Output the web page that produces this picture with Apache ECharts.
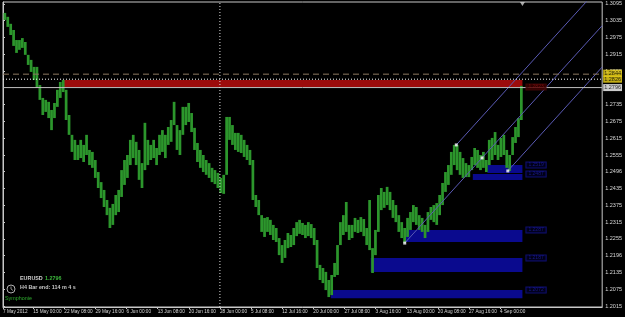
<!DOCTYPE html>
<html><head><meta charset="utf-8">
<script src="https://cdn.jsdelivr.net/npm/echarts@6/dist/echarts.min.js"></script>
<style>html,body{margin:0;padding:0;background:#000}#c{width:625px;height:317px}</style>
</head><body><div id="c"></div>
<script>
// EURUSD H4, aggregated in 3-bar (12h) bins: high / low of each bin
const binHighs = [1.3063,1.3049,1.3024,1.3002,1.2966,1.2966,1.2973,1.2959,1.2913,1.2895,
1.2870,1.2870,1.2805,1.2759,1.2752,1.2745,1.2716,1.2741,1.2788,1.2816,
1.2823,1.2788,1.2698,1.2627,1.2609,1.2591,1.2609,1.2591,1.2627,1.2573,
1.2566,1.2537,1.2494,1.2458,1.2430,1.2394,1.2366,1.2380,
1.2412,1.2430,1.2501,1.2537,1.2555,1.2609,1.2627,
1.2602,1.2573,1.2526,1.2670,1.2609,1.2591,1.2609,1.2580,1.2627,1.2644,
1.2627,1.2655,1.2680,1.2745,1.2662,1.2644,1.2727,1.2727,1.2741,1.2705,
1.2652,1.2598,1.2573,1.2555,1.2537,1.2526,1.2509,1.2501,1.2491,1.2473,
1.2484,1.2691,1.2691,1.2662,1.2634,1.2634,
1.2627,1.2609,1.2591,1.2573,1.2537,1.2412,1.2394,1.2340,
1.2330,1.2333,1.2323,1.2305,1.2294,1.2258,1.2233,1.2251,1.2276,1.2269,
1.2294,1.2315,1.2323,1.2312,1.2305,1.2315,1.2308,1.2294,1.2251,1.2162,
1.2151,1.2137,1.2108,1.2126,1.2169,1.2233,1.2315,1.2340,1.2387,1.2305,
1.2305,1.2330,1.2323,1.2333,1.2326,
1.2294,1.2394,1.2222,1.2287,1.2412,1.2437,1.2423,1.2441,
1.2423,1.2394,1.2376,1.2340,1.2315,1.2294,1.2330,1.2351,1.2376,1.2369,
1.2340,1.2330,1.2305,1.2351,1.2369,1.2376,1.2383,1.2412,1.2455,1.2494,
1.2519,1.2566,1.2591,1.2591,1.2566,1.2544,1.2526,1.2519,1.2548,1.2580,
1.2573,1.2555,1.2566,1.2537,1.2609,1.2616,
1.2637,1.2591,1.2616,1.2627,1.2573,1.2555,1.2619,1.2655,1.2687,1.2802];
const binLows = [1.3038,1.3013,1.2984,1.2945,1.2920,1.2931,1.2938,1.2913,1.2877,1.2852,
1.2823,1.2795,1.2752,1.2698,1.2709,1.2687,1.2644,1.2687,1.2727,1.2759,
1.2780,1.2680,1.2627,1.2566,1.2537,1.2537,1.2544,1.2530,1.2555,1.2519,
1.2509,1.2473,1.2437,1.2401,1.2369,1.2340,1.2294,1.2305,
1.2340,1.2351,1.2405,1.2448,1.2473,1.2519,1.2544,
1.2519,1.2466,1.2437,1.2501,1.2519,1.2537,1.2544,1.2519,1.2555,1.2566,
1.2544,1.2591,1.2602,1.2662,1.2573,1.2555,1.2627,1.2662,1.2673,1.2637,
1.2573,1.2530,1.2509,1.2494,1.2484,1.2473,1.2458,1.2451,1.2437,1.2419,
1.2416,1.2484,1.2609,1.2591,1.2573,1.2566,
1.2562,1.2548,1.2537,1.2519,1.2394,1.2369,1.2340,1.2280,
1.2262,1.2280,1.2269,1.2251,1.2244,1.2197,1.2169,1.2187,1.2222,1.2226,
1.2233,1.2265,1.2273,1.2269,1.2258,1.2265,1.2258,1.2233,1.2151,1.2108,
1.2097,1.2072,1.2047,1.2054,1.2119,1.2126,1.2233,1.2269,1.2280,1.2251,
1.2258,1.2280,1.2276,1.2280,1.2265,
1.2233,1.2215,1.2133,1.2197,1.2280,1.2358,1.2366,1.2376,
1.2358,1.2330,1.2315,1.2280,1.2258,1.2240,1.2262,1.2287,1.2315,1.2305,
1.2287,1.2280,1.2258,1.2280,1.2323,1.2315,1.2305,1.2340,1.2376,1.2423,
1.2448,1.2484,1.2519,1.2501,1.2484,1.2473,1.2476,1.2476,1.2501,1.2519,
1.2509,1.2501,1.2509,1.2494,1.2519,1.2537,
1.2555,1.2537,1.2548,1.2555,1.2509,1.2498,1.2555,1.2598,1.2619,1.2680];
const barsPerBin = 3;

const xTickBars = [0,31,63,95,127,159,191,223,255,287,319,351,383,415,447,479,511];
const xTickLabels = ['7 May 2012','15 May 00:00','22 May 08:00','29 May 16:00','6 Jun 00:00','13 Jun 08:00',
  '20 Jun 16:00','28 Jun 00:00','5 Jul 08:00','12 Jul 16:00','20 Jul 00:00','27 Jul 08:00','3 Aug 16:00',
  '13 Aug 00:00','20 Aug 08:00','27 Aug 16:00','4 Sep 00:00'];
const yTickLabels = ['1.3095','1.3035','1.2975','1.2915','1.2855','1.2735','1.2675','1.2615','1.2555',
  '1.2496','1.2435','1.2375','1.2315','1.2255','1.2196','1.2135','1.2075','1.2015'];

// zones: [fromBar, toBar, top, bottom]
const supplyZone = [61, 534, 1.2823, 1.2798];
const demandZones = [[498,534,1.2519,1.2491],[483,534,1.2487,1.2466],[413,534,1.2287,1.2244],
  [378,534,1.2187,1.2137],[337,534,1.2072,1.2043]];
// Andrews pitchfork pivots [bar, price]
const pivots = [[413,1.2240],[466,1.2591],[519,1.2498]];
const bidPrice = 1.2796;
const dashedLevel = 1.2844;
const dottedLevel = 1.2826;
const separatorBar = 223;
const lastBar = 534;

const X_MAX = 616, Y_MIN = 1.20115, Y_MAX = 1.3102;
const FONT = 'Liberation Sans';

const bars = binHighs.map((h, k) => [barsPerBin * k + 2, binLows[k], h]);

// pitchfork
const [A, B, C] = pivots;
const M = [(B[0] + C[0]) / 2, (B[1] + C[1]) / 2];
const slope = (M[1] - A[1]) / (M[0] - A[0]);
const ext = p => [p, [X_MAX, p[1] + slope * (X_MAX - p[0])]];
const forkLines = [ext(A), ext(B), ext(C)];

const chart = echarts.init(document.getElementById('c'), null, {renderer: 'canvas'});
const forkSeries = forkLines.map(d => ({
  type: 'line', data: d, symbol: 'none', clip: true, z: 4,
  lineStyle: {color: '#5a5ab4', width: 1}, silent: true
}));
const hLine = (y, style, z) => ({
  type: 'line', data: [[0, y], [X_MAX, y]], symbol: 'none', clip: true, z: z, silent: true, lineStyle: style
});
const priceTag = (y, bg, dy) => ({
  type: 'scatter', z: 8, symbolSize: 0, silent: true, clip: false,
  data: [[X_MAX, y]],
  label: {show: true, position: 'right', distance: 1, offset: [0, dy], formatter: () => y.toFixed(4),
    color: '#000', backgroundColor: bg, fontSize: 5.5, fontFamily: FONT, padding: [1, 1, 0, 1], lineHeight: 6}
});

const zoneArea = (z, color) => [{xAxis: z[0], yAxis: z[2], itemStyle: {color: color}}, {xAxis: z[1], yAxis: z[3]}];

const zoneLabels = demandZones.map(z => ({value: [z[1], z[2]], name: z[2].toFixed(4),
    label: {color: '#1e1ea6', borderColor: '#12128a', borderWidth: 1, backgroundColor: '#000018'}}))
  .concat([{value: [supplyZone[1], supplyZone[3]], name: supplyZone[2].toFixed(4),
    label: {color: '#8a1414', borderColor: '#4a0808', borderWidth: 1, backgroundColor: '#3a0000'}}]);

chart.setOption({
  backgroundColor: '#000000',
  animation: false,
  grid: {left: 3, top: 2, width: 602, height: 305, show: true, borderColor: '#c8c8c8', borderWidth: 1, backgroundColor: '#000'},
  xAxis: {
    type: 'value', min: 0, max: X_MAX,
    axisLine: {show: true, onZero: false, lineStyle: {color: '#c8c8c8'}},
    axisTick: {show: true, length: 2, customValues: xTickBars, lineStyle: {color: '#c8c8c8'}},
    axisLabel: {customValues: xTickBars, color: '#d8d8d8', fontSize: 4.7, fontFamily: FONT, margin: 2, align: 'left',
      formatter: v => xTickLabels[xTickBars.indexOf(Math.round(v))] || ''},
    splitLine: {show: false}
  },
  yAxis: {
    type: 'value', position: 'right', min: Y_MIN, max: Y_MAX,
    axisLine: {show: true, lineStyle: {color: '#c8c8c8'}},
    axisTick: {show: true, length: 2, customValues: yTickLabels.map(Number), lineStyle: {color: '#c8c8c8'}},
    axisLabel: {customValues: yTickLabels.map(Number), color: '#d8d8d8', fontSize: 5.5, fontFamily: FONT, margin: 3,
      formatter: v => yTickLabels.find(s => Math.abs(Number(s) - v) < 1e-6) || ''},
    splitLine: {show: false}
  },
  graphic: [
    {type: 'text', left: 20, top: 276, style: {text: 'EURUSD', fill: '#d0d0d0', font: 'bold 5.4px "Liberation Sans"'}},
    {type: 'text', left: 45, top: 276, style: {text: bidPrice.toFixed(4), fill: '#3cb83c', font: 'bold 5.4px "Liberation Sans"'}},
    {type: 'circle', shape: {cx: 11, cy: 289, r: 4}, style: {fill: 'none', stroke: '#b0b0b0', lineWidth: 1}},
    {type: 'polyline', shape: {points: [[11, 286.5], [11, 289], [13, 290.5]]}, style: {fill: 'none', stroke: '#b0b0b0', lineWidth: 0.8}},
    {type: 'text', left: 20, top: 285.5, style: {text: 'H4 Bar end: 114 m 4 s', fill: '#c8c8c8', font: 'bold 5.4px "Liberation Sans"'}},
    {type: 'text', left: 5, top: 296.5, style: {text: 'Symphonie', fill: '#2fae2f', font: '5.4px "Liberation Sans"'}}
  ],
  series: [
    {
      type: 'custom', name: 'EURUSD', z: 3, clip: true,
      data: bars,
      renderItem: (params, api) => {
        const i = api.value(0), lo = api.value(1), hi = api.value(2);
        const p1 = api.coord([i - 1.5, hi]);
        const p2 = api.coord([i + 1.3, lo]);
        return {type: 'rect', shape: {x: p1[0], y: p1[1], width: p2[0] - p1[0], height: Math.max(1, p2[1] - p1[1])},
          style: {fill: '#2c962c'}};
      },
      markArea: {
        silent: true, z: 1,
        data: [zoneArea(supplyZone, '#9c0c0c')].concat(demandZones.map(z => zoneArea(z, '#0a0a8e')))
      }
    },
    hLine(dashedLevel, {color: '#8c7860', type: [6, 4], width: 1}, 6),
    hLine(dottedLevel, {color: '#ffffff', type: [1, 2], width: 1}, 6),
    hLine(bidPrice, {color: '#c0c0c0', type: 'solid', width: 1}, 6),
    {type: 'line', data: [[separatorBar, Y_MIN], [separatorBar, Y_MAX]], symbol: 'none', z: 6, silent: true,
      lineStyle: {color: '#e0e0e0', type: [1, 2], width: 1}},
    ...forkSeries,
    {
      type: 'scatter', z: 7, symbol: 'rect', symbolSize: 3, silent: true,
      itemStyle: {color: '#ffffff'},
      data: [A, B, C, M]
    },
    {
      type: 'scatter', z: 7, symbolSize: 0, silent: true, clip: false,
      data: zoneLabels,
      label: {show: true, position: 'right', distance: 4, fontSize: 5, fontFamily: FONT, padding: [0, 2],
        formatter: p => p.data.name}
    },
    priceTag(dashedLevel, '#f2d81a', -1),
    priceTag(dottedLevel, '#f2d81a', 0),
    priceTag(bidPrice, '#ffffff', 0),
    {
      type: 'scatter', z: 8, symbol: 'triangle', symbolRotate: 180, symbolSize: [5, 4], symbolOffset: [0, 2], silent: true, clip: false,
      itemStyle: {color: '#d0d0d0'},
      data: [[lastBar, Y_MAX]]
    }
  ]
});
</script></body></html>
